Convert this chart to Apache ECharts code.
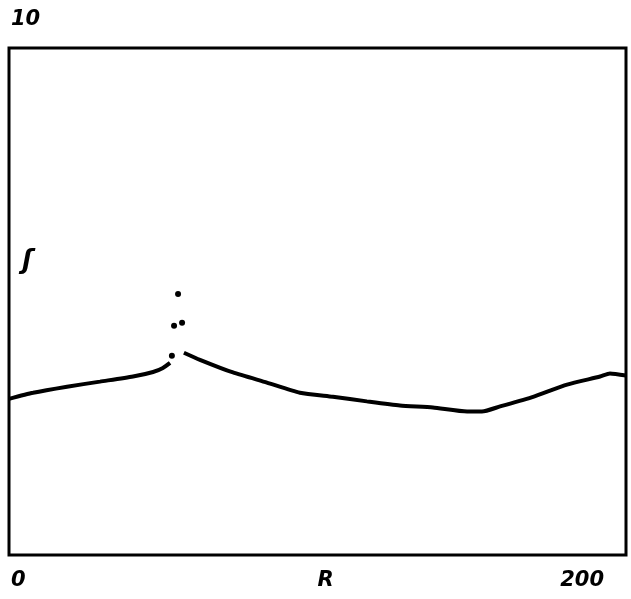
<!DOCTYPE html>
<html>
<head>
<meta charset="utf-8">
<script src="https://cdn.jsdelivr.net/npm/echarts@6/dist/echarts.min.js"></script>
<style>
  html, body { margin: 0; padding: 0; background: #fff; }
  #chart { width: 631px; height: 599px; }
</style>
</head>
<body>
<div id="chart"></div>
<script>
// rho(R) profile: branch below the cusp, branch above it, and the isolated points near the cusp
const leftR = [0, 7.8, 18.8, 29.5, 40.2, 46.7, 49.9, 52.2];
const leftRho = [3.08, 3.20, 3.32, 3.42, 3.52, 3.61, 3.69, 3.79];
const rightR = [56.7, 61.9, 72.6, 83.6, 94.3, 105, 116, 126.7, 137.4, 148.5, 153.3, 159.2, 169.9, 180.9, 191.6, 194.8, 200];
const rightRho = [3.99, 3.85, 3.60, 3.40, 3.20, 3.12, 3.03, 2.95, 2.91, 2.83, 2.83, 2.93, 3.12, 3.36, 3.52, 3.58, 3.54];
const dotR = [52.8, 53.5, 56.1, 54.8];
const dotRho = [3.93, 4.52, 4.58, 5.15];

const xTicks = [0, 200];
const yTicks = [10];
const xName = 'R';
const yName = 'ʃ';

const pairs = (xs, ys) => xs.map((x, i) => [x, ys[i]]);
const labelFont = {
  fontFamily: 'DejaVu Sans',
  fontStyle: 'italic',
  fontWeight: 'bold',
  fontSize: 21,
  color: '#000'
};

const chart = echarts.init(document.getElementById('chart'), null, { renderer: 'canvas' });
chart.setOption({
  animation: false,
  backgroundColor: '#fff',
  grid: {
    left: 9, right: 5, top: 48, bottom: 44,
    outerBoundsMode: 'none', containLabel: false,
    show: true, borderColor: '#000', borderWidth: 3, backgroundColor: 'transparent'
  },
  xAxis: {
    type: 'value', min: 0, max: 200, interval: 200,
    axisLine: { show: false }, axisTick: { show: false }, splitLine: { show: false },
    axisLabel: Object.assign({
      margin: 15,
      formatter: v => xTicks.includes(v) ? String(v) : '',
      alignMinLabel: 'left', alignMaxLabel: 'right',
      padding: [0, 22, 0, 2]
    }, labelFont),
    name: xName, nameLocation: 'middle', nameGap: 15, nameMoveOverlap: false,
    nameTextStyle: Object.assign({ padding: [0, 0, 0, 16] }, labelFont)
  },
  yAxis: {
    type: 'value', min: 0, max: 10, interval: 10,
    axisLine: { show: false }, axisTick: { show: false }, splitLine: { show: false },
    axisLabel: Object.assign({
      inside: true, margin: 2,
      verticalAlign: 'bottom',
      padding: [0, 0, 18, 0],
      formatter: v => yTicks.includes(v) ? String(v) : ''
    }, labelFont)
  },
  graphic: [{
    type: 'text', left: 22, top: 248,
    style: { text: yName, font: 'italic bold 26px "DejaVu Sans"', fill: '#000' }
  }],
  series: [
    {
      type: 'line', data: pairs(leftR, leftRho), showSymbol: false,
      lineStyle: { color: '#000', width: 4 }, smooth: 0.2
    },
    {
      type: 'line', data: pairs(rightR, rightRho), showSymbol: false,
      lineStyle: { color: '#000', width: 4 }, smooth: 0.2
    },
    {
      type: 'scatter', data: pairs(dotR, dotRho), symbolSize: 6,
      itemStyle: { color: '#000', opacity: 1 }
    }
  ]
});
</script>
</body>
</html>
